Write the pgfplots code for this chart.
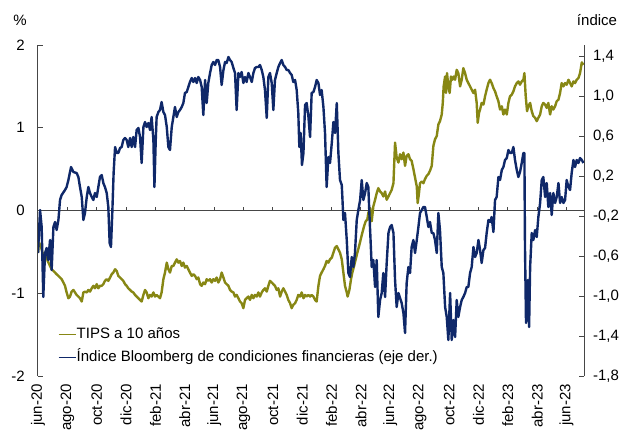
\documentclass[border=0pt]{standalone}
\usepackage{fontspec}
\setmainfont{Liberation Sans}
\usepackage{pgfplots}
\pgfplotsset{compat=1.18}
\definecolor{bluec}{RGB}{15,40,105}
\definecolor{olivec}{RGB}{135,135,20}
\definecolor{axcol}{RGB}{70,70,70}
\begin{document}
\begin{tikzpicture}[font=\fontsize{11.25}{13.5}\selectfont]
\begin{axis}[name=ax,
  width=409.5pt, height=248.25pt, scale only axis,
  xmin=0, xmax=37.19, ymin=-2, ymax=2,
  axis y line*=left, axis x line*=bottom,
  x axis line style={draw=none},
  y axis line style={axcol, line width=0.75pt},
  xtick={0,2,...,36},
  xticklabels={jun-20,ago-20,oct-20,dic-20,feb-21,abr-21,jun-21,ago-21,oct-21,dic-21,feb-22,abr-22,jun-22,ago-22,oct-22,dic-22,feb-23,abr-23,jun-23},
  xtick style={draw=none},
  xticklabel style={rotate=90, anchor=east, inner sep=0pt},
  xticklabel shift=6pt,
  ytick={-2,-1,0,1,2}, yticklabels={-2,-1,0,1,2},
  ytick align=inside, major tick length=3.75pt,
  ytick style={axcol, line width=0.75pt},
  yticklabel style={inner sep=0pt, anchor=east},
  yticklabel shift=9.75pt,
  clip=true,
]
\draw[axcol, line width=0.75pt] (axis cs:0,0) -- (axis cs:37.19,0);
\pgfplotsinvokeforeach{2,4,...,36}{\draw[axcol, line width=0.75pt] (axis cs:#1,0) -- ++(0pt,3pt);}
\addplot[olivec, line width=1.8pt, line join=round] coordinates {
(0.00,-0.51) (0.07,-0.39) (0.20,-0.43) (0.30,-0.51) (0.43,-0.55) (0.52,-0.51) (0.66,-0.61) (0.82,-0.67) (0.93,-0.71) (1.05,-0.73) (1.16,-0.75) (1.27,-0.77) (1.39,-0.79) (1.50,-0.81) (1.61,-0.83) (1.73,-0.87) (1.84,-0.91) (1.95,-0.99) (2.07,-1.06) (2.18,-1.04) (2.29,-0.98) (2.41,-0.96) (2.52,-0.99) (2.63,-1.02) (2.75,-1.04) (2.86,-1.06) (2.98,-1.10) (3.09,-0.99) (3.20,-0.98) (3.32,-0.99) (3.43,-0.96) (3.54,-0.98) (3.66,-0.94) (3.77,-0.91) (3.88,-0.94) (4.00,-0.89) (4.11,-0.94) (4.22,-0.91) (4.34,-0.91) (4.45,-0.89) (4.56,-0.85) (4.68,-0.83) (4.79,-0.85) (4.91,-0.81) (5.02,-0.77) (5.13,-0.75) (5.25,-0.71) (5.36,-0.73) (5.47,-0.79) (5.59,-0.81) (5.70,-0.83) (5.81,-0.85) (5.93,-0.89) (6.04,-0.91) (6.15,-0.94) (6.27,-0.96) (6.38,-0.98) (6.49,-0.99) (6.61,-1.02) (6.72,-1.04) (6.84,-1.06) (6.95,-1.08) (7.06,-1.10) (7.18,-1.02) (7.29,-0.96) (7.40,-0.99) (7.52,-1.06) (7.63,-1.02) (7.74,-1.04) (7.86,-0.99) (7.97,-1.04) (8.08,-1.02) (8.20,-1.04) (8.31,-1.06) (8.42,-0.99) (8.54,-0.83) (8.65,-0.75) (8.77,-0.63) (8.88,-0.71)
(8.99,-0.75) (9.11,-0.67) (9.22,-0.67) (9.33,-0.63) (9.45,-0.59) (9.56,-0.63) (9.67,-0.61) (9.79,-0.67) (9.90,-0.63) (10.01,-0.69) (10.13,-0.67) (10.24,-0.71) (10.35,-0.75) (10.47,-0.79) (10.58,-0.77) (10.70,-0.79) (10.81,-0.83) (10.92,-0.81) (11.04,-0.89) (11.15,-0.91) (11.26,-0.87) (11.38,-0.89) (11.49,-0.83) (11.60,-0.85) (11.72,-0.83) (11.83,-0.87) (11.94,-0.83) (12.06,-0.85) (12.17,-0.81) (12.28,-0.87) (12.40,-0.83) (12.51,-0.75) (12.63,-0.81) (12.74,-0.87) (12.85,-0.89) (12.97,-0.91) (13.08,-0.96) (13.19,-0.98) (13.31,-0.99) (13.42,-1.04) (13.53,-1.02) (13.65,-1.06) (13.76,-1.10) (13.87,-1.12) (13.99,-1.18) (14.10,-1.08) (14.21,-1.06) (14.33,-1.04) (14.44,-1.08) (14.56,-1.02) (14.67,-1.06) (14.78,-1.02) (14.90,-1.04) (15.01,-0.99) (15.12,-1.04) (15.24,-0.99) (15.35,-0.96) (15.46,-0.94) (15.58,-0.98) (15.69,-0.91) (15.80,-0.85) (15.92,-0.87) (16.03,-0.89) (16.14,-0.91) (16.26,-0.96) (16.37,-0.94) (16.49,-1.04) (16.60,-0.98) (16.71,-0.94) (16.83,-0.98) (16.94,-1.02) (17.05,-1.08) (17.17,-1.12) (17.28,-1.18) (17.39,-1.14) (17.51,-1.12) (17.62,-1.08) (17.73,-1.02) (17.85,-1.04) (17.96,-0.99) (18.08,-1.06)
(18.19,-1.02) (18.30,-1.04) (18.42,-1.02) (18.53,-1.04) (18.64,-1.02) (18.76,-1.04) (18.87,-1.08) (18.98,-1.10) (19.10,-0.91) (19.21,-0.79) (19.32,-0.75) (19.44,-0.71) (19.55,-0.67) (19.66,-0.61) (19.78,-0.63) (19.89,-0.59) (20.01,-0.57) (20.12,-0.51) (20.23,-0.45) (20.35,-0.43) (20.46,-0.47) (20.57,-0.51) (20.69,-0.59) (20.80,-0.75) (20.91,-0.91) (21.03,-0.99) (21.09,-1.04) (21.21,-0.96) (21.32,-0.83) (21.41,-0.75) (21.53,-0.67) (21.64,-0.59) (21.75,-0.51) (21.87,-0.43) (21.98,-0.35) (22.09,-0.27) (22.21,-0.19) (22.32,-0.13) (22.43,-0.11) (22.50,-0.03) (22.62,0.03) (22.73,-0.13) (22.84,0.05) (22.96,0.13) (23.07,0.21) (23.18,0.27) (23.30,0.23) (23.41,0.21) (23.52,0.17) (23.64,0.23) (23.75,0.13) (23.87,0.17) (23.98,0.21) (24.09,0.25) (24.21,0.33) (24.32,0.82) (24.43,0.64) (24.55,0.58) (24.66,0.68) (24.77,0.62) (24.89,0.70) (25.00,0.54) (25.11,0.66) (25.23,0.68) (25.34,0.62) (25.45,0.60) (25.57,0.50) (25.68,0.40) (25.80,0.29) (25.86,0.09) (25.95,0.21) (26.02,0.33) (26.14,0.35) (26.25,0.33) (26.36,0.38) (26.48,0.42) (26.59,0.44) (26.70,0.48) (26.82,0.54) (26.93,0.78) (27.04,0.86) (27.16,0.90) (27.27,1.04) (27.38,1.08) (27.50,1.16) (27.57,1.30) (27.63,1.50)
(27.73,1.62) (27.79,1.42) (27.86,1.66) (27.95,1.50) (28.04,1.42) (28.13,1.62) (28.22,1.58) (28.32,1.62) (28.41,1.58) (28.52,1.70) (28.63,1.66) (28.75,1.50) (28.86,1.58) (28.97,1.72) (29.09,1.66) (29.20,1.58) (29.31,1.54) (29.43,1.50) (29.54,1.46) (29.66,1.42) (29.77,1.46) (29.88,1.30) (29.95,1.06) (30.04,1.18) (30.11,1.22) (30.22,1.30) (30.34,1.28) (30.45,1.38) (30.56,1.46) (30.68,1.54) (30.79,1.58) (30.90,1.54) (31.02,1.48) (31.13,1.44) (31.24,1.38) (31.36,1.32) (31.47,1.22) (31.59,1.26) (31.70,1.16) (31.81,1.22) (31.93,1.16) (32.04,1.30) (32.15,1.38) (32.27,1.40) (32.38,1.44) (32.49,1.50) (32.61,1.54) (32.72,1.56) (32.83,1.52) (32.95,1.56) (33.06,1.58) (33.13,1.66) (33.22,1.38) (33.31,1.20) (33.40,1.26) (33.52,1.30) (33.63,1.20) (33.74,1.14) (33.86,1.12) (33.97,1.08) (34.08,1.12) (34.20,1.16) (34.31,1.26) (34.42,1.30) (34.54,1.28) (34.65,1.24) (34.76,1.30) (34.88,1.16) (34.99,1.26) (35.10,1.22) (35.22,1.26) (35.33,1.32) (35.45,1.34) (35.56,1.42) (35.67,1.54) (35.79,1.50) (35.90,1.54) (36.01,1.52) (36.13,1.58) (36.24,1.54) (36.35,1.50) (36.47,1.56) (36.58,1.54) (36.69,1.58) (36.81,1.60) (36.92,1.66) (37.04,1.79) (37.15,1.76)
};
\end{axis}
\begin{axis}[
  width=409.5pt, height=248.25pt, scale only axis,
  xmin=0, xmax=37.19, ymin=-1.8, ymax=1.51,
  axis y line*=right, axis x line=none,
  y axis line style={axcol, line width=0.75pt},
  ytick={-1.8,-1.4,-1.0,-0.6,-0.2,0.2,0.6,1.0,1.4},
  yticklabels={{-1,8},{-1,4},{-1,0},{-0,6},{-0,2},{0,2},{0,6},{1,0},{1,4}},
  ytick align=inside, major tick length=3.75pt,
  ytick style={axcol, line width=0.75pt},
  yticklabel style={inner sep=0pt, anchor=west},
  yticklabel shift=6.6pt,
  clip=true,
  legend style={draw=none, fill=none, at={(axis description cs:0.0366,0.0314)}, anchor=south west, inner sep=0pt, outer sep=0pt, row sep=5.05pt, nodes={inner sep=0.5pt, text height=8.5pt, text depth=2.7pt, anchor=west}},
  legend cell align=left,
  legend image code/.code={\draw[#1, line width=0.8pt] (0pt,0pt) -- (12.75pt,0pt);},
]
\addlegendimage{olivec}
\addlegendentry{TIPS a 10 años}
\addplot[bluec, line width=1.8pt, line join=round] coordinates {
(0.00,-0.57) (0.14,-0.14) (0.25,-0.31) (0.36,-1.01) (0.48,-0.57) (0.59,-0.52) (0.70,-0.64) (0.82,-0.44) (0.93,-0.74) (1.05,-0.31) (1.16,-0.26) (1.27,-0.34) (1.39,-0.24) (1.50,-0.04) (1.61,0.01) (1.84,0.06) (1.95,0.09) (2.07,0.16) (2.25,0.29) (2.41,0.24) (2.63,0.23) (2.75,0.19) (2.86,0.09) (2.98,-0.01) (3.09,-0.24) (3.20,-0.17) (3.32,-0.01) (3.43,0.09) (3.54,0.03) (3.66,-0.01) (3.77,-0.04) (3.88,0.03) (4.00,-0.01) (4.11,0.09) (4.22,0.19) (4.34,0.21) (4.45,0.13) (4.56,0.09) (4.68,0.03) (4.79,-0.11) (4.88,-0.47) (4.97,-0.51) (5.06,-0.17) (5.15,0.23) (5.25,0.49) (5.36,0.43) (5.47,0.43) (5.59,0.48) (5.70,0.49) (5.81,0.56) (5.93,0.58) (6.04,0.56) (6.15,0.49) (6.27,0.58) (6.38,0.49) (6.49,0.59) (6.61,0.49) (6.72,0.66) (6.84,0.68) (6.95,0.59) (7.06,0.33) (7.18,0.69) (7.29,0.74) (7.40,0.69) (7.52,0.73) (7.63,0.66) (7.74,0.79) (7.86,0.56) (7.93,0.09) (8.02,0.56) (8.08,0.79) (8.20,0.84) (8.31,0.86) (8.42,0.94) (8.54,0.84) (8.65,0.81) (8.77,0.69) (8.88,0.49)
(8.99,0.46) (9.11,0.69) (9.22,0.79) (9.33,0.89) (9.45,0.79) (9.56,0.84) (9.67,0.86) (9.79,0.89) (9.90,0.93) (10.01,1.03) (10.13,1.04) (10.24,1.09) (10.35,1.14) (10.47,1.18) (10.58,1.14) (10.70,1.18) (10.81,1.13) (10.92,1.19) (11.04,1.16) (11.15,1.09) (11.26,0.81) (11.38,1.16) (11.49,0.93) (11.60,1.13) (11.72,1.23) (11.83,1.31) (11.94,1.34) (12.06,1.31) (12.17,1.36) (12.28,1.36) (12.40,1.29) (12.51,1.11) (12.63,1.26) (12.74,1.34) (12.85,1.33) (12.97,1.39) (13.08,1.36) (13.19,1.34) (13.31,1.28) (13.42,1.23) (13.53,0.86) (13.65,1.23) (13.76,1.19) (13.87,1.24) (13.99,1.13) (14.10,1.19) (14.21,1.14) (14.33,1.23) (14.44,1.19) (14.56,1.14) (14.67,1.23) (14.78,1.28) (14.90,1.29) (15.01,1.29) (15.12,1.31) (15.24,1.26) (15.35,1.19) (15.46,1.06) (15.58,0.78) (15.69,1.19) (15.80,1.23) (15.92,1.13) (16.03,0.86) (16.14,1.16) (16.26,1.23) (16.37,1.29) (16.49,1.33) (16.60,1.36) (16.71,1.31) (16.83,1.29) (16.94,1.26) (17.05,1.26) (17.17,1.23) (17.28,1.21) (17.39,1.14) (17.51,1.16) (17.62,1.06) (17.73,0.83) (17.80,0.49) (17.89,0.63) (17.98,0.31) (18.08,0.43)
(18.19,0.91) (18.30,0.93) (18.42,0.79) (18.53,0.59) (18.64,1.03) (18.76,1.04) (18.87,1.09) (18.98,1.16) (19.10,1.13) (19.21,1.01) (19.32,1.06) (19.44,0.89) (19.55,0.63) (19.66,0.09) (19.78,0.39) (19.89,0.33) (20.01,0.53) (20.12,0.74) (20.23,0.63) (20.35,0.93) (20.46,0.43) (20.57,0.16) (20.69,0.11) (20.73,-0.01) (20.80,-0.24) (20.91,-0.17) (21.03,-0.44) (21.14,-0.77) (21.25,-0.81) (21.37,-0.61) (21.48,-0.71) (21.59,-0.57) (21.71,-0.24) (21.82,-0.14) (21.94,-0.04) (22.05,0.16) (22.16,-0.04) (22.28,0.03) (22.39,0.13) (22.50,0.09) (22.57,-0.17) (22.66,-0.47) (22.73,-0.71) (22.84,-0.64) (22.96,-0.91) (23.07,-0.64) (23.18,-1.21) (23.30,-1.04) (23.41,-0.97) (23.52,-0.77) (23.64,-1.01) (23.75,-0.67) (23.87,-0.37) (23.98,-0.31) (24.09,-0.29) (24.21,-0.37) (24.32,-0.84) (24.43,-1.11) (24.55,-0.97) (24.66,-1.02) (24.77,-1.07) (24.89,-1.17) (25.00,-1.37) (25.11,-0.87) (25.23,-0.71) (25.34,-0.77) (25.45,-0.51) (25.57,-0.44) (25.68,-0.57) (25.80,-0.44) (25.91,-0.31) (26.02,-0.17) (26.14,-0.14) (26.25,-0.11) (26.36,-0.11) (26.48,-0.21) (26.59,-0.31) (26.70,-0.26) (26.82,-0.37) (26.93,-0.37) (27.04,-0.44) (27.16,-0.57) (27.27,-0.17) (27.38,-0.34) (27.50,-0.71) (27.61,-0.77)
(27.73,-1.11) (27.84,-1.21) (27.95,-1.44) (28.07,-0.97) (28.18,-1.44) (28.29,-1.24) (28.41,-1.41) (28.52,-1.04) (28.63,-1.21) (28.75,-1.11) (28.86,-1.04) (28.97,-1.01) (29.09,-0.97) (29.20,-0.91) (29.31,-0.91) (29.43,-0.77) (29.54,-0.71) (29.66,-0.51) (29.77,-0.61) (29.88,-0.57) (30.00,-0.44) (30.11,-0.54) (30.22,-0.67) (30.34,-0.54) (30.45,-0.52) (30.56,-0.37) (30.68,-0.24) (30.79,-0.26) (30.90,-0.21) (31.02,-0.36) (31.13,-0.04) (31.24,-0.01) (31.36,0.19) (31.47,0.16) (31.59,0.26) (31.70,0.29) (31.81,0.36) (31.93,0.38) (32.04,0.46) (32.15,0.43) (32.27,0.43) (32.38,0.49) (32.49,0.36) (32.61,0.26) (32.72,0.19) (32.83,0.24) (32.95,0.33) (33.06,0.43) (33.13,0.43) (33.17,-0.51) (33.24,-1.27) (33.36,-0.84) (33.45,-1.31) (33.52,-0.71) (33.63,-0.37) (33.74,-0.44) (33.86,-0.34) (33.97,-0.41) (34.08,-0.21) (34.20,-0.07) (34.31,0.16) (34.42,0.19) (34.54,-0.01) (34.65,0.13) (34.76,-0.11) (34.88,0.03) (34.99,-0.19) (35.10,0.03) (35.22,-0.07) (35.33,-0.01) (35.45,0.13) (35.56,-0.07) (35.67,-0.01) (35.79,-0.07) (35.90,-0.04) (36.01,0.16) (36.13,0.09) (36.24,0.06) (36.35,0.23) (36.47,0.36) (36.58,0.29) (36.69,0.36) (36.81,0.33) (36.92,0.38) (37.04,0.36) (37.15,0.33)
};
\addlegendentry{Índice Bloomberg de condiciones financieras (eje der.)}
\end{axis}
\node at ([shift={(-13.5pt,267pt)}]ax.south west) {\%};
\node at ([shift={(419.25pt,267pt)}]ax.south west) {índice};
\pgfresetboundingbox
\path[use as bounding box] ([shift={(-28.5pt,-40.5pt)}]ax.south west) rectangle ([shift={(436.5pt,282pt)}]ax.south west);
\end{tikzpicture}
\end{document}
